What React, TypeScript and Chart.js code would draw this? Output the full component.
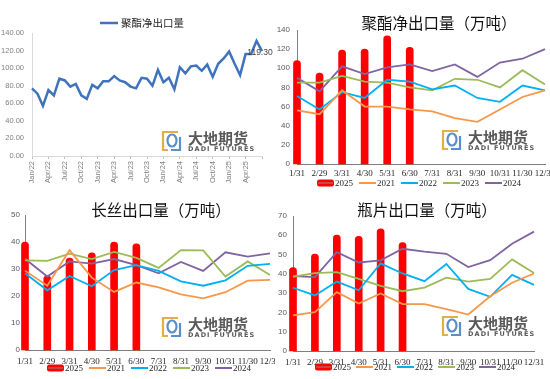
import React, { useEffect, useRef } from 'react';
import { Chart, registerables } from 'chart.js';

Chart.register(...registerables);

// ---------------- Data ----------------
const netExportMonths = [
  'Jan/22', 'Feb/22', 'Mar/22', 'Apr/22', 'May/22', 'Jun/22', 'Jul/22', 'Aug/22', 'Sep/22', 'Oct/22', 'Nov/22', 'Dec/22',
  'Jan/23', 'Feb/23', 'Mar/23', 'Apr/23', 'May/23', 'Jun/23', 'Jul/23', 'Aug/23', 'Sep/23', 'Oct/23', 'Nov/23', 'Dec/23',
  'Jan/24', 'Feb/24', 'Mar/24', 'Apr/24', 'May/24', 'Jun/24', 'Jul/24', 'Aug/24', 'Sep/24', 'Oct/24', 'Nov/24', 'Dec/24',
  'Jan/25', 'Feb/25', 'Mar/25', 'Apr/25', 'May/25', 'Jun/25', 'Jul/25',
];
const netExportValues = [
  77, 71, 57, 75, 69, 88, 86, 79, 82, 69, 65, 81,
  77, 85, 85, 91, 86, 84, 79, 77, 89, 88, 80, 98,
  84, 89, 76, 101, 94, 102, 103, 97, 104, 90, 105, 111,
  119, 105, 92, 116, 116, 131, 119.3,
];
const netExportName = '聚酯净出口量';

const dayLabels = ['1/31', '2/29', '3/31', '4/30', '5/31', '6/30', '7/31', '8/31', '9/30', '10/31', '11/30', '12/31'];
const yearNames = ['2025', '2021', '2022', '2023', '2024'];

const polyester2025 = [108, 95, 119, 120, 134, 122];
const polyester2021 = [56, 52, 77, 60, 60, 57, 55, 48, 44, 57, 70, 77];
const polyester2022 = [71, 57, 75, 69, 88, 86, 78, 82, 69, 65, 82, 77];
const polyester2023 = [85, 85, 92, 86, 85, 80, 77, 89, 88, 80, 98, 83];
const polyester2024 = [90, 76, 102, 94, 101, 104, 97, 104, 91, 106, 110, 120];

const filament2025 = [40, 27.5, 34, 36, 40, 39.3];
const filament2021 = [29.4, 23.8, 37, 26.8, 21.5, 25, 23.2, 20.6, 19.1, 21.4, 25.7, 26];
const filament2022 = [28.4, 22.1, 27.4, 23.6, 29.6, 31.4, 29.3, 25.4, 23.8, 25.8, 31.2, 31.9];
const filament2023 = [33.2, 33, 35.7, 33.7, 36.3, 34.1, 30.4, 37, 36.9, 27.2, 32.8, 27.8];
const filament2024 = [33.8, 27.2, 32.8, 32, 33.7, 31.4, 28.4, 32.6, 29.3, 36.2, 34.6, 35.8];

const bottle2025 = [43.3, 50.3, 60.1, 59.4, 63.3, 56.2];
const bottle2021 = [18.5, 20.1, 30.5, 24.6, 29.8, 24.3, 24.3, 21.7, 18.9, 28.4, 35.4, 40.2];
const bottle2022 = [32.8, 28.8, 36, 31.5, 45.4, 40.2, 36.2, 45.1, 32.2, 28.1, 39.5, 34.3];
const bottle2023 = [38.5, 40.4, 40.9, 37.4, 33.8, 31, 32.9, 38, 36, 37.4, 47.5, 40.4];
const bottle2024 = [38.8, 38.3, 51.3, 45.9, 47, 53, 51.5, 50.4, 43.5, 47.1, 55.6, 61.9];

const titlePolyester = '聚酯净出口量（万吨）';
const titleFilament = '长丝出口量（万吨）';
const titleBottle = '瓶片出口量（万吨）';

// ---------------- Styles ----------------
const yearColors = ['#FF0000', '#F8974A', '#00B0F0', '#9BBB59', '#8064A2'];
const CJK = '"Noto Sans CJK SC", sans-serif';
const SERIF = '"Liberation Serif", "Times New Roman", serif';
const SANS = '"Liberation Sans", Arial, sans-serif';

function drawLogo(ctx: CanvasRenderingContext2D, x: number, y: number) {
  ctx.save();
  ctx.lineWidth = 2.2;
  ctx.strokeStyle = '#E2AE45';
  ctx.beginPath();
  ctx.moveTo(x + 16, y + 1);
  ctx.lineTo(x + 1, y + 1);
  ctx.lineTo(x + 1, y + 19);
  ctx.lineTo(x + 6, y + 19);
  ctx.stroke();
  ctx.strokeStyle = '#5B8FCB';
  ctx.beginPath();
  ctx.ellipse(x + 10, y + 9.5, 4.5, 6, 0, 0, Math.PI * 2);
  ctx.stroke();
  ctx.beginPath();
  ctx.moveTo(x + 9, y + 19);
  ctx.lineTo(x + 18, y + 19);
  ctx.lineTo(x + 18, y + 6);
  ctx.stroke();
  ctx.fillStyle = '#595959';
  ctx.textAlign = 'left';
  ctx.textBaseline = 'middle';
  ctx.font = 'bold 15px ' + CJK;
  ctx.fillText('大地期货', x + 26, y + 7);
  ctx.font = 'bold 6.5px "DejaVu Sans", sans-serif';
  (ctx as any).letterSpacing = '1.1px';
  ctx.fillText('DADI FUTURES', x + 26, y + 18.5);
  ctx.restore();
}

const decorPlugin = {
  id: 'decor',
  beforeDatasetsDraw(chart: any, _args: any, opts: any) {
    if (opts && opts.logo) drawLogo(chart.ctx, opts.logo.x, opts.logo.y);
  },
  afterDraw(chart: any, _args: any, opts: any) {
    const ctx: CanvasRenderingContext2D = chart.ctx;
    ctx.save();
    if (opts.title) {
      ctx.fillStyle = '#111111';
      ctx.font = opts.title.font;
      ctx.textAlign = 'center';
      ctx.textBaseline = 'middle';
      ctx.fillText(opts.title.text, opts.title.x, opts.title.y);
    }
    if (opts.legend) {
      const lg = opts.legend;
      chart.data.datasets.forEach((ds: any, i: number) => {
        const x0 = lg.x + i * lg.spacing;
        const y = lg.y;
        if (ds.type === 'bar') {
          ctx.fillStyle = ds.backgroundColor;
          ctx.beginPath();
          (ctx as any).roundRect(x0, y - 3.5, lg.symbol, 7, 2.5);
          ctx.fill();
          ctx.strokeStyle = '#8C8C8C';
          ctx.lineWidth = 1;
          ctx.beginPath();
          ctx.moveTo(x0 + 1, y);
          ctx.lineTo(x0 + lg.symbol - 1, y);
          ctx.stroke();
        } else {
          ctx.strokeStyle = ds.borderColor;
          ctx.lineWidth = lg.lineWidth;
          ctx.beginPath();
          ctx.moveTo(x0, y);
          ctx.lineTo(x0 + lg.symbol, y);
          ctx.stroke();
        }
        ctx.fillStyle = lg.color;
        ctx.font = lg.font;
        ctx.textAlign = 'left';
        ctx.textBaseline = 'middle';
        ctx.fillText(ds.label, x0 + lg.symbol + lg.gap, y + lg.textDy);
      });
    }
    if (opts.lastLabel) {
      const meta = chart.getDatasetMeta(0);
      const pts = meta.data;
      const data = chart.data.datasets[0].data;
      const p = pts[pts.length - 1];
      if (p) {
        ctx.fillStyle = '#404040';
        ctx.font = '8.5px ' + SANS;
        ctx.textAlign = 'center';
        ctx.textBaseline = 'middle';
        ctx.fillText(Number(data[data.length - 1]).toFixed(2), p.x - 2, p.y + 1);
      }
    }
    ctx.restore();
  },
};

const topLegendPlugin = {
  id: 'topLegend',
  afterDraw(chart: any) {
    const ctx: CanvasRenderingContext2D = chart.ctx;
    const ds = chart.data.datasets[0];
    ctx.save();
    ctx.strokeStyle = ds.borderColor;
    ctx.lineWidth = 2.5;
    ctx.beginPath();
    ctx.moveTo(100, 23);
    ctx.lineTo(118, 23);
    ctx.stroke();
    ctx.fillStyle = '#262626';
    ctx.font = '10.5px ' + CJK;
    ctx.textAlign = 'left';
    ctx.textBaseline = 'middle';
    ctx.fillText(ds.label, 121, 23);
    ctx.restore();
  },
};

function netExportConfig(): any {
  return {
    type: 'line',
    data: {
      labels: netExportMonths,
      datasets: [
        {
          label: netExportName,
          data: netExportValues,
          borderColor: '#3F74BC',
          backgroundColor: '#3F74BC',
          borderWidth: 2.5,
          pointRadius: 0,
          tension: 0,
        },
      ],
    },
    options: {
      responsive: false,
      animation: false,
      devicePixelRatio: 1,
      events: [],
      layout: { padding: { top: 33, right: 13, left: 0, bottom: 0 } },
      scales: {
        x: {
          type: 'category',
          offset: false,
          grid: {
            display: true,
            drawOnChartArea: false,
            drawTicks: true,
            tickLength: 3,
            color: (c: any) => (c.index % 3 === 0 ? '#BFBFBF' : 'rgba(0,0,0,0)'),
          },
          border: { display: true, color: '#D9D9D9' },
          ticks: {
            autoSkip: false,
            maxRotation: 90,
            minRotation: 90,
            padding: 2,
            color: '#7F7F7F',
            font: { family: SANS, size: 7.5 },
            callback: (_v: any, i: number) => (i % 3 === 0 && i <= 39 ? netExportMonths[i] : ''),
          },
          afterFit: (s: any) => {
            s.height = 34;
            s.paddingLeft = 0;
            s.paddingRight = 0;
          },
        },
        y: {
          min: 0,
          max: 140,
          grid: { display: false, drawTicks: false, tickLength: 0 },
          border: { display: true, color: '#D9D9D9' },
          ticks: {
            stepSize: 20,
            padding: 8,
            color: '#7F7F7F',
            font: { family: SANS, size: 7.5 },
            callback: (v: any) => Number(v).toFixed(2),
          },
          afterFit: (s: any) => {
            s.width = 32;
            s.paddingTop = 0;
            s.paddingBottom = 0;
          },
        },
      },
      plugins: {
        legend: { display: false },
        tooltip: { enabled: false },
        decor: {
          logo: { x: 162, y: 131 },
          lastLabel: true,
        },
      },
    },
    plugins: [decorPlugin, topLegendPlugin],
  };
}

type YearSpec = {
  bars: number[];
  lines: number[][];
  max: number;
  step: number;
  area: { left: number; top: number; right: number; bottom: number };
  width: number;
  height: number;
  yPad: number;
  xPad: number;
  title: { text: string; x: number; y: number };
  legend: { x: number; y: number; spacing: number };
  logo: { x: number; y: number };
};

function yearConfig(spec: YearSpec): any {
  const datasets: any[] = [
    {
      type: 'bar',
      label: yearNames[0],
      data: spec.bars,
      backgroundColor: yearColors[0],
      borderWidth: 0,
      barThickness: 7,
      borderRadius: { topLeft: 3.5, topRight: 3.5, bottomLeft: 0, bottomRight: 0 },
      borderSkipped: false,
      clip: false,
      order: 10,
    },
  ];
  spec.lines.forEach((vals, i) => {
    datasets.push({
      type: 'line',
      label: yearNames[i + 1],
      data: vals,
      borderColor: yearColors[i + 1],
      backgroundColor: yearColors[i + 1],
      borderWidth: 1.8,
      pointRadius: 0,
      tension: 0,
      order: 1,
    });
  });
  return {
    type: 'line',
    data: { labels: dayLabels, datasets },
    options: {
      responsive: false,
      animation: false,
      devicePixelRatio: 1,
      events: [],
      layout: { padding: { top: spec.area.top, right: spec.width - spec.area.right, left: 0, bottom: 0 } },
      scales: {
        x: {
          type: 'category',
          offset: false,
          grid: { display: false, offset: false, drawTicks: false, tickLength: 0 },
          border: { display: true, color: '#7F7F7F' },
          ticks: {
            autoSkip: false,
            maxRotation: 0,
            minRotation: 0,
            padding: spec.xPad,
            color: '#262626',
            font: { family: SERIF, size: 9 },
          },
          afterFit: (s: any) => {
            s.height = spec.height - spec.area.bottom;
            s.paddingLeft = 0;
            s.paddingRight = 0;
          },
        },
        y: {
          min: 0,
          max: spec.max,
          grid: { display: false, drawTicks: false, tickLength: 0 },
          border: { display: true, color: '#7F7F7F' },
          ticks: {
            stepSize: spec.step,
            padding: spec.yPad,
            color: '#595959',
            font: { family: SANS, size: 8 },
          },
          afterFit: (s: any) => {
            s.width = spec.area.left;
            s.paddingTop = 0;
            s.paddingBottom = 0;
          },
        },
      },
      plugins: {
        legend: { display: false },
        tooltip: { enabled: false },
        decor: {
          logo: spec.logo,
          title: { text: spec.title.text, x: spec.title.x, y: spec.title.y, font: '15.5px ' + CJK },
          legend: {
            x: spec.legend.x,
            y: spec.legend.y,
            spacing: spec.legend.spacing,
            symbol: 17,
            gap: 1,
            lineWidth: 2,
            color: '#262626',
            font: '9px ' + SERIF,
            textDy: 1,
          },
        },
      },
    },
    plugins: [decorPlugin],
  };
}

function ChartPanel(props: { left: number; top: number; width: number; height: number; build: () => any }) {
  const ref = useRef<HTMLCanvasElement>(null);
  useEffect(() => {
    const chart = new Chart(ref.current as HTMLCanvasElement, props.build());
    return () => chart.destroy();
  }, []);
  return (
    <div style={{ position: 'absolute', left: props.left, top: props.top, width: props.width, height: props.height }}>
      <canvas
        ref={ref}
        width={props.width}
        height={props.height}
        style={{ display: 'block', width: props.width, height: props.height }}
      />
    </div>
  );
}

export default function App() {
  return (
    <div style={{ position: 'fixed', left: 0, top: 0, width: 550, height: 379, background: '#FFFFFF', overflow: 'hidden' }}>
      <ChartPanel left={0} top={0} width={275} height={190} build={netExportConfig} />
      <ChartPanel
        left={275}
        top={0}
        width={275}
        height={190}
        build={() =>
          yearConfig({
            bars: polyester2025,
            lines: [polyester2021, polyester2022, polyester2023, polyester2024],
            max: 140,
            step: 20,
            area: { left: 22, top: 30, right: 270, bottom: 164 },
            width: 275,
            height: 190,
            yPad: 7,
            xPad: 4,
            title: { text: titlePolyester, x: 164, y: 23 },
            legend: { x: 42, y: 183, spacing: 42 },
            logo: { x: 167, y: 130 },
          })
        }
      />
      <ChartPanel
        left={0}
        top={190}
        width={275}
        height={189}
        build={() =>
          yearConfig({
            bars: filament2025,
            lines: [filament2021, filament2022, filament2023, filament2024],
            max: 50,
            step: 10,
            area: { left: 25, top: 25, right: 270, bottom: 160 },
            width: 275,
            height: 189,
            yPad: 5,
            xPad: 6,
            title: { text: titleFilament, x: 161, y: 20 },
            legend: { x: 47, y: 178, spacing: 42 },
            logo: { x: 162, y: 127 },
          })
        }
      />
      <ChartPanel
        left={275}
        top={190}
        width={275}
        height={189}
        build={() =>
          yearConfig({
            bars: bottle2025,
            lines: [bottle2021, bottle2022, bottle2023, bottle2024],
            max: 70,
            step: 10,
            area: { left: 18, top: 26, right: 259, bottom: 161 },
            width: 275,
            height: 189,
            yPad: 6,
            xPad: 6,
            title: { text: titleBottle, x: 152, y: 20 },
            legend: { x: 40, y: 177, spacing: 41 },
            logo: { x: 167, y: 126 },
          })
        }
      />
    </div>
  );
}
